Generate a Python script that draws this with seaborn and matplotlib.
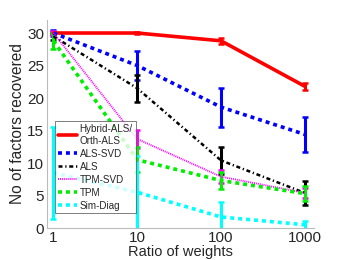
import numpy as np
import pandas as pd
import seaborn as sns
import matplotlib
matplotlib.use("Agg")
import matplotlib.pyplot as plt

# data
ratios = [1, 10, 100, 1000]
methods = ["Hybrid-ALS/\nOrth-ALS", "ALS-SVD", "ALS", "TPM-SVD", "TPM", "Sim-Diag"]
hybrid = [30.0, 30.0, 28.8, 21.8]
hybrid_err = [0.2, 0.1, 0.5, 0.5]
als_svd = [30.0, 25.0, 18.6, 14.4]
als_svd_err = [0.4, 2.3, 3.0, 2.7]
als = [29.5, 21.5, 10.4, 5.4]
als_err = [0.5, 2.1, 2.1, 1.8]
tpm_svd = [30.0, 13.7, 7.9, 5.4]
tpm_svd_err = [0.3, 1.4, 1.0, 0.8]
tpm = [28.8, 10.5, 7.3, 5.3]
tpm_err = [1.2, 1.9, 1.3, 1.2]
sim_diag = [8.5, 5.5, 1.7, 0.5]
sim_diag_err = [7.1, 5.6, 2.3, 0.6]

colors = ["#ff0000", "#0000ff", "#000000", "#ff00ff", "#00ee00", "#00ffff"]
styles = [(None, 2.6), ((1.1, 1.1), 2.6), ((1.6, 1.1, 0.5, 1.1), 1.8),
          ((0.5, 0.5), 1.4), ((1.1, 1.1), 2.6), ((1.1, 1.1), 2.6)]

df = pd.DataFrame({
    "ratio": ratios * 6,
    "value": hybrid + als_svd + als + tpm_svd + tpm + sim_diag,
    "err": hybrid_err + als_svd_err + als_err + tpm_svd_err + tpm_err + sim_diag_err,
    "method": [m for m in methods for _ in ratios],
})

sns.set_style("white")
plt.rcParams["font.family"] = ["Liberation Sans", "DejaVu Sans"]

fig = plt.figure(figsize=(3.46, 2.6), dpi=100)
ax = fig.add_axes([0.136, 0.123, 0.771, 0.8])

for i, m in enumerate(methods):
    d = df[df["method"] == m]
    dash, lw = styles[i]
    ax.errorbar(d["ratio"], d["value"], yerr=d["err"], fmt="none",
                ecolor=colors[i], elinewidth=2.2, capsize=2.2, capthick=1.8,
                zorder=2 + i * 0.1)
    sns.lineplot(x=d["ratio"], y=d["value"], color=colors[i], lw=lw, ax=ax,
                 label=m, zorder=3 + i * 0.1)
    if dash is not None:
        ax.lines[-1].set_dashes(dash)

ax.set_xscale("log")
ax.set_xlim(0.84, 1280)
ax.set_ylim(0, 32)
ax.set_xticks(ratios)
ax.set_xticklabels(["1", "10", "100", "1000"])
ax.set_yticks([0, 5, 10, 15, 20, 25, 30])
ax.minorticks_off()
ax.tick_params(direction="in", length=2, width=0.6, color="#999999",
               labelsize=11, pad=2)
for s in ["top", "right"]:
    ax.spines[s].set_visible(False)
for s in ["left", "bottom"]:
    ax.spines[s].set_color("#bbbbbb")
    ax.spines[s].set_linewidth(0.8)
ax.set_xlabel("Ratio of weights", fontsize=10.5, labelpad=0)
ax.set_ylabel("No of factors recovered", fontsize=11.2, labelpad=2)

leg = ax.legend(loc="lower left", bbox_to_anchor=(0.03, 0.07), fontsize=7.1,
                handlelength=1.9, handletextpad=0.3, borderpad=0.3,
                labelspacing=0.3, frameon=True, fancybox=False,
                borderaxespad=0)
leg.get_frame().set_edgecolor("#444444")
leg.get_frame().set_linewidth(0.6)
leg.set_zorder(10)

fig.savefig("out.png", dpi=100)
